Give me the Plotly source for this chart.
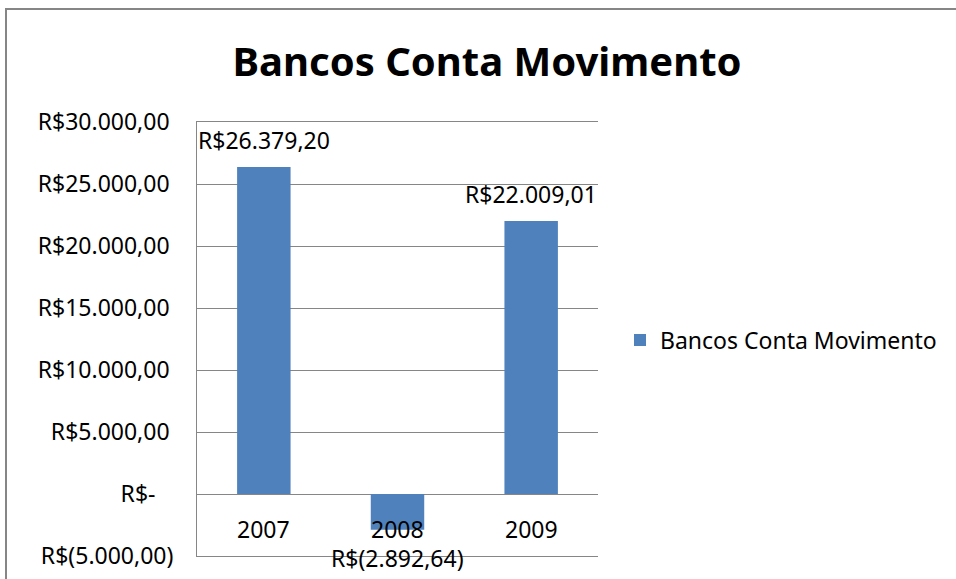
import plotly.graph_objects as go

title = "Bancos Conta Movimento"
series_name = "Bancos Conta Movimento"
categories = ["2007", "2008", "2009"]
values = [26379.20, -2892.64, 22009.01]
tick_values = [30000, 25000, 20000, 15000, 10000, 5000, 0, -5000]
tick_labels = ["R$30.000,00\u2009", "R$25.000,00\u2009", "R$20.000,00\u2009",
               "R$15.000,00\u2009", "R$10.000,00\u2009", "R$5.000,00\u2009",
               "R$-\u00a0\u00a0\u00a0", "R$(5.000,00)"]


def brl(v):
    s = f"{abs(v):,.2f}".replace(",", "X").replace(".", ",").replace("X", ".")
    return f"R$({s})" if v < 0 else f"R${s}"


FONT = "Noto Sans"
FS = 23
W, H = 956, 579
L, R, T, B = 197, 598, 122, 556

fig = go.Figure()
fig.add_trace(go.Bar(x=categories, y=values, name=series_name,
                     marker=dict(color="#4F81BD", line=dict(width=0)),
                     showlegend=True))

annotations = []
for i, (c, v) in enumerate(zip(categories, values)):
    annotations.append(dict(x=i, y=v, xref="x", yref="y", text=brl(v), showarrow=False,
                            yanchor="middle", yshift=27 if v >= 0 else -28,
                            font=dict(family=FONT, size=FS, color="#000000")))
    annotations.append(dict(x=i, y=0, xref="x", yref="y", text=c, showarrow=False,
                            yanchor="middle", yshift=-35,
                            font=dict(family=FONT, size=FS, color="#000000")))

pw, ph = R - L, B - T
fig.update_layout(
    width=W, height=H, autosize=False,
    margin=dict(l=L, r=W - R, t=T, b=H - B, pad=0, autoexpand=False),
    paper_bgcolor="white", plot_bgcolor="white",
    title=dict(text=f"<b>{title}</b>", x=487 / W, xanchor="center",
               y=1 - 62 / H, yanchor="middle",
               font=dict(family=FONT, size=40, color="#000000")),
    bargap=0.6,
    xaxis=dict(type="category", categoryorder="array", categoryarray=categories,
               range=[-0.5, len(categories) - 0.5], autorange=False, automargin=False,
               showticklabels=False, showgrid=False,
               showline=True, mirror=True, linecolor="#868686", linewidth=1,
               zeroline=False, ticks=""),
    yaxis=dict(range=[-5000, 30000], autorange=False, automargin=False,
               tickvals=tick_values, ticktext=tick_labels,
               showgrid=True, gridcolor="#868686", gridwidth=1, zeroline=False,
               showline=True, linecolor="#868686", linewidth=1, ticks="",
               ticklabelstandoff=18,
               tickfont=dict(family=FONT, size=FS, color="#000000")),
    legend=dict(x=(620 - L) / pw, xanchor="left", y=(B - 340) / ph, yanchor="middle",
                font=dict(family=FONT, size=FS, color="#000000"),
                bgcolor="rgba(0,0,0,0)"),
    annotations=annotations,
    shapes=[dict(type="rect", xref="paper", yref="paper",
                 x0=(6 - L) / pw, x1=(W + 20 - L) / pw,
                 y0=(B - (H + 20)) / ph, y1=(B - 9) / ph,
                 line=dict(color="#868686", width=2), fillcolor="rgba(0,0,0,0)",
                 layer="below")],
    font=dict(family=FONT),
)

fig.write_html("out.html", config={"displayModeBar": False},
               post_script="document.body.style.margin='0';")
